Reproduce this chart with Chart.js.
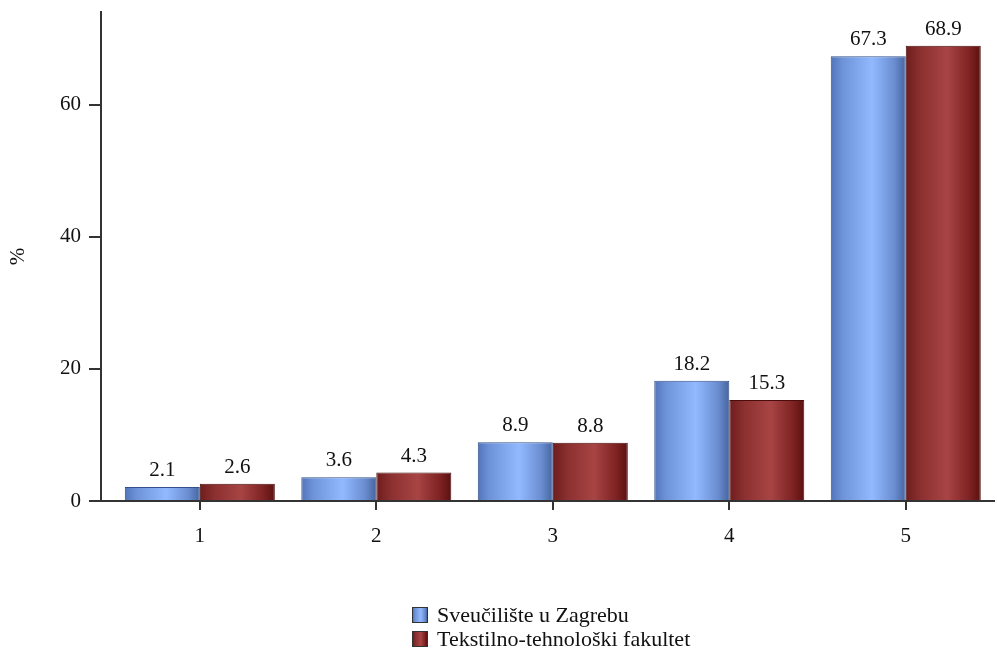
<!DOCTYPE html>
<html>
<head>
<meta charset="utf-8">
<script src="https://cdn.jsdelivr.net/npm/chart.js@4"></script>
<style>
    body { margin: 0; background: #fff; }
    #wrap { position: relative; width: 997px; height: 657px; }
    #legend { position: absolute; left: 412px; top: 603px; font-family: 'Liberation Serif', 'Times New Roman', serif; font-size: 22px; color: #111; }
    .item { height: 24px; line-height: 24px; display: flex; align-items: center; }
    .box { width: 14px; height: 14px; border: 1px solid #333; margin-right: 9px; }
</style>
</head>
<body>
<div id="wrap">
    <canvas id="chart"></canvas>
    <div id="legend"></div>
</div>
<script>
// Dados do gráfico
const categories = ['1', '2', '3', '4', '5'];
const seriesNames = ['Sveučilište u Zagrebu', 'Tekstilno-tehnološki fakultet'];
const zagreb = [2.1, 3.6, 8.9, 18.2, 67.3];
const ttf = [2.6, 4.3, 8.8, 15.3, 68.9];
const yTicks = [0, 20, 40, 60];

// Gradientes das barras
const blueStops = [[0, '#5274b8'], [0.15, '#6d92d8'], [0.55, '#92b9ff'], [0.85, '#6a8dd0'], [1, '#46649f']];
const redStops = [[0, '#6e1d1d'], [0.2, '#8c3030'], [0.55, '#a84444'], [0.85, '#7e2222'], [1, '#5a1010']];

const font = { family: "'Liberation Serif', 'Times New Roman', serif", size: 21 };
const catPct = 0.85;

function barGradient(context, stops) {
    const chart = context.chart;
    const xs = chart.scales.x;
    if (!xs || context.type !== 'data') return stops[2][1];
    const center = xs.getPixelForValue(context.dataIndex + 1);
    const unit = xs.getPixelForValue(2) - xs.getPixelForValue(1);
    if (!isFinite(center) || !isFinite(unit)) return stops[2][1];
    const w = unit * catPct / 2;
    const left = context.datasetIndex === 0 ? center - w : center;
    const g = chart.ctx.createLinearGradient(left, 0, left + w, 0);
    stops.forEach(s => g.addColorStop(s[0], s[1]));
    return g;
}

function toPoints(values) {
    return values.map((v, i) => ({ x: i + 1, y: v }));
}

// Rótulos de valor acima das barras
const valueLabels = {
    id: 'valueLabels',
    afterDatasetsDraw(chart) {
        const ctx = chart.ctx;
        ctx.save();
        ctx.font = font.size + 'px ' + font.family;
        ctx.fillStyle = '#111';
        ctx.textAlign = 'center';
        ctx.textBaseline = 'bottom';
        chart.data.datasets.forEach((ds, di) => {
            chart.getDatasetMeta(di).data.forEach((bar, i) => {
                ctx.fillText(ds.data[i].y.toFixed(1), bar.x, bar.y - 6);
            });
        });
        ctx.restore();
    }
};

const chart = new Chart(document.getElementById('chart'), {
    type: 'bar',
    data: {
        datasets: [{
            label: seriesNames[0],
            data: toPoints(zagreb),
            backgroundColor: ctx => barGradient(ctx, blueStops),
            borderColor: '#34508a',
            borderWidth: 1
        }, {
            label: seriesNames[1],
            data: toPoints(ttf),
            backgroundColor: ctx => barGradient(ctx, redStops),
            borderColor: '#4a0c0c',
            borderWidth: 1
        }]
    },
    options: {
        responsive: true,
        maintainAspectRatio: false,
        animation: false,
        layout: { padding: { top: 12, right: 3, left: 0, bottom: 106 } },
        datasets: { bar: { categoryPercentage: catPct, barPercentage: 1 } },
        plugins: {
            legend: { display: false },
            tooltip: { enabled: false }
        },
        scales: {
            x: {
                type: 'linear',
                min: 0.44,
                max: 5.5,
                offset: false,
                border: { color: '#333', width: 2 },
                grid: { offset: false, drawOnChartArea: false, tickLength: 9, color: '#333', lineWidth: 2 },
                afterBuildTicks: s => { s.ticks = categories.map((c, i) => ({ value: i + 1 })); },
                afterFit: s => { s.height = 50; s.paddingLeft = 0; s.paddingRight = 0; },
                ticks: {
                    callback: v => categories[v - 1],
                    padding: 14,
                    color: '#111',
                    font: font,
                    maxRotation: 0
                }
            },
            y: {
                min: 0,
                max: 74,
                border: { color: '#333', width: 2 },
                grid: { drawOnChartArea: false, tickLength: 12, color: '#333', lineWidth: 2 },
                afterBuildTicks: s => { s.ticks = yTicks.map(v => ({ value: v })); },
                afterFit: s => { s.width = 101; s.paddingTop = 0; s.paddingBottom = 0; },
                ticks: { padding: 8, color: '#111', font: font },
                title: { display: true, text: '%', color: '#111', font: font, padding: { top: 6, bottom: 0 } }
            }
        }
    },
    plugins: [valueLabels]
});

// Legenda em HTML
const legend = document.getElementById('legend');
[blueStops, redStops].forEach((stops, i) => {
    const item = document.createElement('div');
    item.className = 'item';
    const box = document.createElement('span');
    box.className = 'box';
    box.style.background = 'linear-gradient(to right, ' + stops.map(s => s[1] + ' ' + (s[0] * 100) + '%').join(', ') + ')';
    const txt = document.createElement('span');
    txt.textContent = seriesNames[i];
    item.appendChild(box);
    item.appendChild(txt);
    legend.appendChild(item);
});
</script>
</body>
</html>
